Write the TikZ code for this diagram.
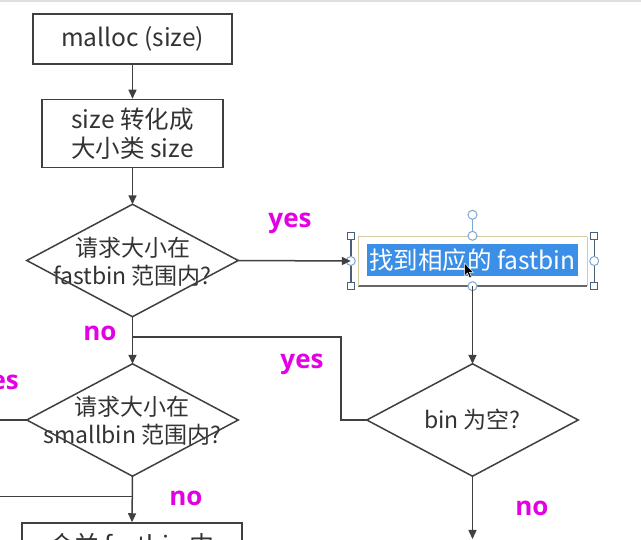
\documentclass[tikz,border=0pt]{standalone}
\usepackage{fontspec}
\setmainfont{Noto Sans CJK SC}
\newfontfamily\labfont{Open Sans}
\usetikzlibrary{arrows.meta,calc}
\definecolor{ink}{HTML}{404040}
\definecolor{txt}{HTML}{333333}
\definecolor{mag}{RGB}{228,0,228}
\definecolor{hl}{HTML}{3B8FE6}
\definecolor{selline}{HTML}{4A5F7A}
\definecolor{handle}{HTML}{7FA6D6}
\definecolor{tan}{HTML}{D9C9A0}
\begin{document}
\begin{tikzpicture}[x=1pt,y=-1pt,
  line/.style={draw=ink,line width=1.5pt},
  arr/.style={line,-{Triangle[length=9pt,width=8pt]}},
  box/.style={draw=ink,line width=1.5pt,rectangle,inner sep=0pt,text=txt,align=center,
    font=\fontsize{24.5}{29}\selectfont},
  diabox/.style={rectangle,inner sep=0pt,minimum width=211pt,minimum height=112pt,text=txt,align=center,
    font=\fontsize{23}{28}\selectfont},
  lab/.style={text=mag,font=\labfont\bfseries\fontsize{26}{26}\selectfont,inner sep=0pt},
  sqh/.style={draw=selline,fill=white,line width=0.8pt,minimum size=7pt,inner sep=0pt,rectangle},
  cih/.style={draw=handle,fill=white,line width=1pt,minimum size=9pt,inner sep=0pt,circle}]
\useasboundingbox (0,0) rectangle (641,540);
\clip (0,0) rectangle (641,540);
\fill[white] (0,0) rectangle (641,540);
\fill[gray!25] (0,0) rectangle (641,2.5);

% boxes
\node[box,minimum width=199pt,minimum height=50pt] (malloc) at (132.5,39) {malloc (size)};
\node[box,minimum width=181pt,minimum height=68pt] (conv) at (132.5,133.5) {size 转化成\\大小类 size};

% diamonds
\node[diabox] (d1) at (132.5,260.5) {};
\node[text=txt,align=center,font=\fontsize{23}{28}\selectfont,inner sep=0pt] (d1t) at (132.5,262) {请求大小在\\fastbin 范围内?};
\draw[line] (d1.north) -- (d1.east) -- (d1.south) -- (d1.west) -- cycle;
\node[diabox] (d2) at (132.5,420) {};
\node[text=txt,align=center,font=\fontsize{23}{28}\selectfont,inner sep=0pt] (d2t) at (132.5,421) {请求大小在\\smallbin 范围内?};
\draw[line] (d2.north) -- (d2.east) -- (d2.south) -- (d2.west) -- cycle;
\node[diabox] (d3) at (472.5,420) {bin 为空?};
\draw[line] (d3.north) -- (d3.east) -- (d3.south) -- (d3.west) -- cycle;

% fastbin box with selection
\node[rectangle,minimum width=243pt,minimum height=50pt,inner sep=0pt] (sel) at (472.5,261) {};
\draw[tan,line width=1pt] (358,237) -- (587,237);
\draw[ink!80,line width=1.2pt] (358,286) -- (587,286);
\draw[tan,line width=0.8pt] (358,237) -- (358,286) (587,237) -- (587,286);
\draw[selline,line width=1.4pt] (sel.north west) -- (sel.south west) (sel.north east) -- (sel.south east);
\node[fill=hl,text=white,inner sep=0pt,minimum width=211pt,minimum height=32pt,
  font=\fontsize{24.5}{26}\selectfont] (fb) at (472.5,260.5) {找到相应的 fastbin};
\draw[handle,line width=1pt] (sel.north) -- ++(0,-21) coordinate (rot);
\node[cih] (hrot) at (rot) {};
\node[sqh] (h1) at (sel.north west) {};
\node[sqh] (h2) at (sel.north east) {};
\node[sqh] (h3) at (sel.south west) {};
\node[sqh] (h4) at (sel.south east) {};
\node[cih] (h5) at (sel.north) {};
\node[cih] (h6) at (sel.south) {};
\node[cih] (h7) at (sel.west) {};
\node[cih] (h8) at (sel.east) {};
% mouse cursor
\filldraw[fill=black,draw=white,line width=0.5pt] (464.5,263) -- (464.5,276) -- (467.5,273) -- (469.5,278) -- (471.5,277) -- (469.5,272.5) -- (473.5,272.5) -- cycle;

% bottom box (cut off)
\node[box,minimum width=220pt,minimum height=44pt,font=\fontsize{25}{29}\selectfont] (merge) at (132,545) {合并 fastbin 中};

% connectors
\draw[arr] (malloc) -- (conv);
\draw[arr] (conv) -- (d1.north);
\draw[arr] (d1.east) -- (sel.west);
\draw[arr] (sel.south) -- (d3.north);
\draw[arr] (d1.south) -- (d2.north);
\coordinate (j1) at (132.5,337);
\draw[line] (d3.west) -- ++(-26,0) |- (j1);
\coordinate (lin1) at (0,420);
\draw[line] (lin1) -- (d2.west);
\coordinate (lin2) at (0,496.5);
\coordinate (j2) at (132.5,496.5);
\draw[line] (lin2) -- (j2);
\draw[arr] (d2.south) -- (merge.north);
\coordinate (out) at (472.5,539);
\draw[arr] (d3.south) -- (out);

% labels
\node[lab] (y1) at (290,223) {yes};
\node[lab] (n1) at (100,333) {no};
\node[lab] (y2) at (302,364) {yes};
\node[lab,anchor=east] (y3) at (19,385) {yes};
\node[lab] (n2) at (186,498) {no};
\node[lab] (n3) at (532,508) {no};
\end{tikzpicture}
\end{document}
